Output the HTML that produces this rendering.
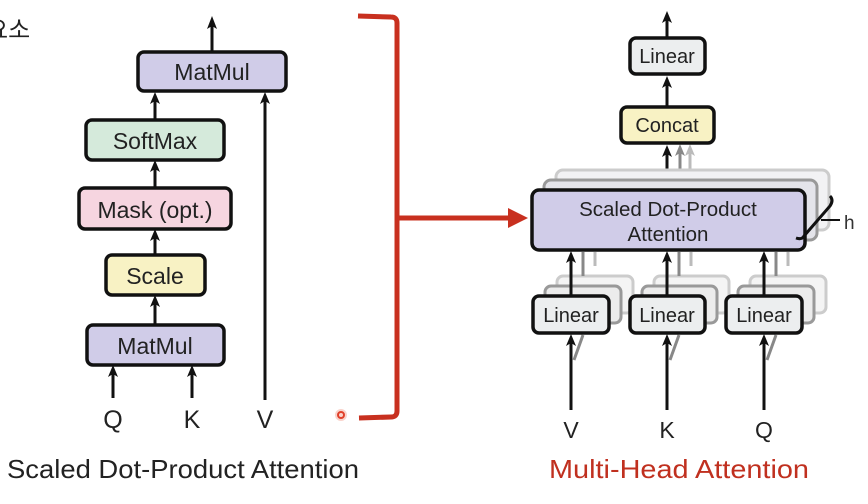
<!DOCTYPE html>
<html><head><meta charset="utf-8"><style>
html,body{margin:0;padding:0;background:#fff;width:868px;height:504px;overflow:hidden}
svg{display:block}
text{font-family:"Liberation Sans","Noto Sans CJK KR",sans-serif}
</style></head><body>
<svg width="868" height="504" viewBox="0 0 868 504" xmlns="http://www.w3.org/2000/svg">

<text x="-14" y="38" font-size="24" fill="#222">요소</text>

<!-- Left diagram -->
<g stroke="#111" stroke-width="3" fill="none">
<line x1="212" y1="52" x2="212" y2="24"/>
<line x1="155" y1="120" x2="155" y2="98"/>
<line x1="155" y1="188" x2="155" y2="166"/>
<line x1="155" y1="255" x2="155" y2="235"/>
<line x1="155" y1="325" x2="155" y2="301"/>
<line x1="113" y1="398" x2="113" y2="371"/>
<line x1="192" y1="398" x2="192" y2="371"/>
<line x1="265" y1="400" x2="265" y2="98"/>
</g>
<g fill="#111">
<path d="M207,29 L212,16 L217,29 L212,26 Z"/>
<path d="M150,104 L155,92 L160,104 L155,101 Z"/>
<path d="M150,172 L155,160 L160,172 L155,169 Z"/>
<path d="M150,241 L155,229 L160,241 L155,238 Z"/>
<path d="M150,307 L155,295 L160,307 L155,304 Z"/>
<path d="M108,377 L113,365 L118,377 L113,374 Z"/>
<path d="M187,377 L192,365 L197,377 L192,374 Z"/>
<path d="M260,104 L265,92 L270,104 L265,101 Z"/>
</g>
<g stroke="#111" stroke-width="3.5">
<rect x="138" y="52" width="148" height="39" rx="6" fill="#d0cce8"/>
<rect x="86" y="120" width="138" height="40" rx="6" fill="#d5eadb"/>
<rect x="79" y="188" width="152" height="41" rx="6" fill="#f6d5e0"/>
<rect x="106" y="255" width="99" height="40" rx="6" fill="#f8f2c4"/>
<rect x="87" y="325" width="137" height="40" rx="6" fill="#d0cce8"/>
</g>
<g font-size="23" fill="#222" text-anchor="middle">
<text x="212" y="80">MatMul</text>
<text x="155" y="149">SoftMax</text>
<text x="155" y="218">Mask (opt.)</text>
<text x="155" y="284">Scale</text>
<text x="155" y="354">MatMul</text>
</g>
<g font-size="25" fill="#222" text-anchor="middle">
<text x="113" y="428">Q</text><text x="192" y="428">K</text><text x="265" y="428">V</text>
</g>
<text x="7" y="478" font-size="26" fill="#222" textLength="352" lengthAdjust="spacingAndGlyphs">Scaled Dot-Product Attention</text>

<!-- Red bracket -->
<g stroke="#c8301f" stroke-width="5" fill="none">
<path d="M358,16 L391,17 Q397,17 397,23 L397,411 Q397,417 391,417 L359,418"/>
<line x1="397" y1="218" x2="510" y2="218"/>
</g>
<path d="M508,208 L528,218 L508,228 Z" fill="#c8301f"/>
<circle cx="341" cy="415" r="6" fill="#f5b5a8" opacity="0.6"/>
<circle cx="341" cy="415" r="3" fill="none" stroke="#e0402a" stroke-width="2"/>

<!-- Right diagram -->
<g stroke-width="3" fill="none">
<line x1="690" y1="170" x2="690" y2="152" stroke="#bbb"/>
<line x1="680" y1="180" x2="680" y2="152" stroke="#888"/>
</g>
<path d="M685,156 L690,144 L695,156 L690,153 Z" fill="#bbb"/>
<path d="M675,156 L680,144 L685,156 L680,153 Z" fill="#888"/>
<g stroke="#111" stroke-width="3" fill="none">
<line x1="667" y1="38" x2="667" y2="18"/>
<line x1="667" y1="107" x2="667" y2="82"/>
<line x1="667" y1="190" x2="667" y2="152"/>
</g>
<g fill="#111">
<path d="M662,23 L667,11 L672,23 L667,20 Z"/>
<path d="M662,88 L667,76 L672,88 L667,85 Z"/>
<path d="M662,157 L667,145 L672,157 L667,154 Z"/>
</g>
<!-- shadows SDPA -->
<rect x="556" y="170" width="273" height="60" rx="7" fill="#f2f2f4" stroke="#ccc" stroke-width="3"/>
<rect x="544" y="180" width="273" height="60" rx="7" fill="#e4e4ea" stroke="#999" stroke-width="3"/>
<!-- shadow linears -->
<g stroke-width="3">
<rect x="557" y="276" width="76" height="37" rx="6" fill="#f4f4f4" stroke="#ccc"/>
<rect x="545" y="286" width="76" height="37" rx="6" fill="#ececec" stroke="#999"/>
<rect x="654" y="276" width="75" height="37" rx="6" fill="#f4f4f4" stroke="#ccc"/>
<rect x="642" y="286" width="75" height="37" rx="6" fill="#ececec" stroke="#999"/>
<rect x="750" y="276" width="76" height="37" rx="6" fill="#f4f4f4" stroke="#ccc"/>
<rect x="738" y="286" width="76" height="37" rx="6" fill="#ececec" stroke="#999"/>
</g>
<g stroke-width="3" fill="none">
<line x1="583" y1="276" x2="583" y2="252" stroke="#888"/>
<line x1="595" y1="266" x2="595" y2="252" stroke="#bbb"/>
<line x1="679" y1="276" x2="679" y2="252" stroke="#888"/>
<line x1="691" y1="266" x2="691" y2="252" stroke="#bbb"/>
<line x1="776" y1="276" x2="776" y2="252" stroke="#888"/>
<line x1="788" y1="266" x2="788" y2="252" stroke="#bbb"/>
<line x1="574" y1="360" x2="583" y2="335" stroke="#888"/>
<line x1="670" y1="360" x2="679" y2="335" stroke="#888"/>
<line x1="767" y1="360" x2="776" y2="335" stroke="#888"/>
</g>
<g stroke="#111" stroke-width="3.5">
<rect x="630" y="38" width="75" height="36" rx="6" fill="#eceeef"/>
<rect x="621" y="107" width="93" height="36" rx="6" fill="#f8f2c4"/>
<rect x="532" y="190" width="273" height="60" rx="7" fill="#d0cce8"/>
<rect x="533" y="296" width="76" height="37" rx="6" fill="#eceeef"/>
<rect x="630" y="296" width="75" height="37" rx="6" fill="#eceeef"/>
<rect x="726" y="296" width="76" height="37" rx="6" fill="#eceeef"/>
</g>
<g stroke="#111" stroke-width="3" fill="none">
<line x1="571" y1="296" x2="571" y2="258"/>
<line x1="667" y1="296" x2="667" y2="258"/>
<line x1="764" y1="296" x2="764" y2="258"/>
<line x1="571" y1="410" x2="571" y2="341"/>
<line x1="667" y1="410" x2="667" y2="341"/>
<line x1="764" y1="410" x2="764" y2="341"/>
<path d="M830,196 Q834,200 830,206 L804,236 Q802,240 796,238"/>
<line x1="821" y1="220" x2="840" y2="220" stroke-width="2"/>
</g>
<g fill="#111">
<path d="M566,263 L571,251 L576,263 L571,260 Z"/>
<path d="M662,263 L667,251 L672,263 L667,260 Z"/>
<path d="M759,263 L764,251 L769,263 L764,260 Z"/>
<path d="M566,346 L571,334 L576,346 L571,343 Z"/>
<path d="M662,346 L667,334 L672,346 L667,343 Z"/>
<path d="M759,346 L764,334 L769,346 L764,343 Z"/>
</g>
<text x="844" y="229" font-size="19" fill="#333">h</text>
<g font-size="20" fill="#222" text-anchor="middle">
<text x="667" y="63">Linear</text>
<text x="667" y="132">Concat</text>
<text x="668" y="216" font-size="20.5">Scaled Dot-Product</text>
<text x="668" y="241" font-size="20.5">Attention</text>
<text x="571" y="322">Linear</text>
<text x="667" y="322">Linear</text>
<text x="764" y="322">Linear</text>
</g>
<g font-size="23" fill="#222" text-anchor="middle">
<text x="571" y="438">V</text><text x="667" y="438">K</text><text x="764" y="438">Q</text>
</g>
<text x="549" y="478" font-size="26" fill="#c0301f" textLength="260" lengthAdjust="spacingAndGlyphs">Multi-Head Attention</text>
</svg>
</body></html>
